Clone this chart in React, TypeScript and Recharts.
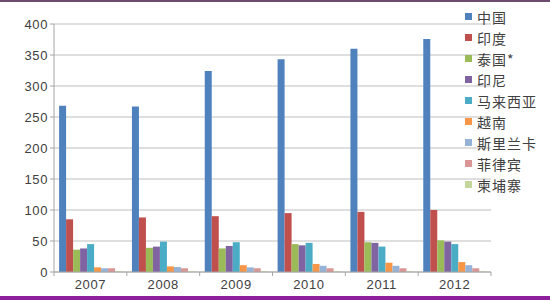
import { BarChart, Bar, XAxis, YAxis, CartesianGrid } from 'recharts';

const YEARS = ['2007', '2008', '2009', '2010', '2011', '2012'];

const COUNTRIES = ['中国', '印度', '泰国*', '印尼', '马来西亚', '越南', '斯里兰卡', '菲律宾', '柬埔寨'];

const COLORS = ['#4F81BD', '#C0504D', '#9BBB59', '#8064A2', '#4BACC6', '#F79646', '#95B3D7', '#D99694', '#C3D69B'];

const CHINA = [268, 267, 324, 343, 360, 376];
const INDIA = [85, 88, 90, 95, 97, 100];
const THAILAND = [36, 39, 38, 45, 48, 51];
const INDONESIA = [38, 41, 42, 43, 47, 49];
const MALAYSIA = [45, 49, 48, 47, 41, 45];
const VIETNAM = [7.5, 9, 11, 13, 15, 16];
const SRI_LANKA = [6, 8, 7.5, 10, 10, 11];
const PHILIPPINES = [6, 6, 6, 6, 6, 6];
const CAMBODIA = [1, 1, 1, 1, 1, 1];

const SERIES = [CHINA, INDIA, THAILAND, INDONESIA, MALAYSIA, VIETNAM, SRI_LANKA, PHILIPPINES, CAMBODIA];

const Y_TICKS = [0, 50, 100, 150, 200, 250, 300, 350, 400];

const chartData = YEARS.map((year, i) => {
  const row: Record<string, string | number> = { year };
  COUNTRIES.forEach((name, k) => {
    row[name] = SERIES[k][i];
  });
  return row;
});

const FONT = '"Liberation Sans", Arial, sans-serif';

// Excel style: tick marks between categories, label centred
function YearTick(props: any) {
  const { x, y, payload, index } = props;
  const half = payload && payload.offset ? payload.offset : 36;
  return (
    <g>
      <line x1={x - half} y1={y - 8} x2={x - half} y2={y - 4} stroke="#a6a6a6" />
      {index === YEARS.length - 1 && (
        <line x1={x + half} y1={y - 8} x2={x + half} y2={y - 4} stroke="#a6a6a6" />
      )}
      <text x={x} y={y + 9} textAnchor="middle" fill="#404040" fontSize={13} letterSpacing={0.6} fontFamily={FONT}>
        {payload.value}
      </text>
    </g>
  );
}

function LegendList() {
  return (
    <div
      style={{
        position: 'absolute',
        left: 465,
        top: 6,
        fontFamily: '"Noto Sans CJK SC", sans-serif',
        fontSize: 14,
        color: '#404040',
      }}
    >
      {COUNTRIES.map((name, k) => (
        <div key={name} style={{ display: 'flex', alignItems: 'center', height: 21, letterSpacing: 1 }}>
          <span style={{ width: 7, height: 7, background: COLORS[k], marginRight: 5, display: 'inline-block' }} />
          <span>{name}</span>
        </div>
      ))}
    </div>
  );
}

export default function App() {
  return (
    <div style={{ position: 'absolute', left: 0, top: 0, width: 550, height: 300, background: '#ffffff', overflow: 'hidden' }}>
      <BarChart
        width={550}
        height={300}
        data={chartData}
        margin={{ top: 24, right: 59, bottom: 0, left: 0 }}
        barCategoryGap="7%"
        barGap={0}
      >
        <CartesianGrid vertical={false} stroke="#bfbfbf" />
        <XAxis
          dataKey="year"
          height={28}
          axisLine={{ stroke: '#a6a6a6' }}
          tickLine={false}
          tick={<YearTick />}
          interval={0}
        />
        <YAxis
          width={54}
          domain={[0, 400]}
          ticks={Y_TICKS}
          axisLine={{ stroke: '#a6a6a6' }}
          tickLine={{ stroke: '#a6a6a6' }}
          tickSize={4}
          tick={{ fill: '#404040', fontSize: 13, fontFamily: FONT, letterSpacing: 0.6 }}
        />
        {COUNTRIES.map((name, k) => (
          <Bar key={name} dataKey={name} fill={COLORS[k]} isAnimationActive={false} />
        ))}
      </BarChart>
      <LegendList />
      <div style={{ position: 'absolute', left: 0, top: 0, width: 550, height: 2, background: '#6e4a6e' }} />
      <div style={{ position: 'absolute', left: 0, top: 296, width: 550, height: 4, background: '#8e1f9c' }} />
    </div>
  );
}
